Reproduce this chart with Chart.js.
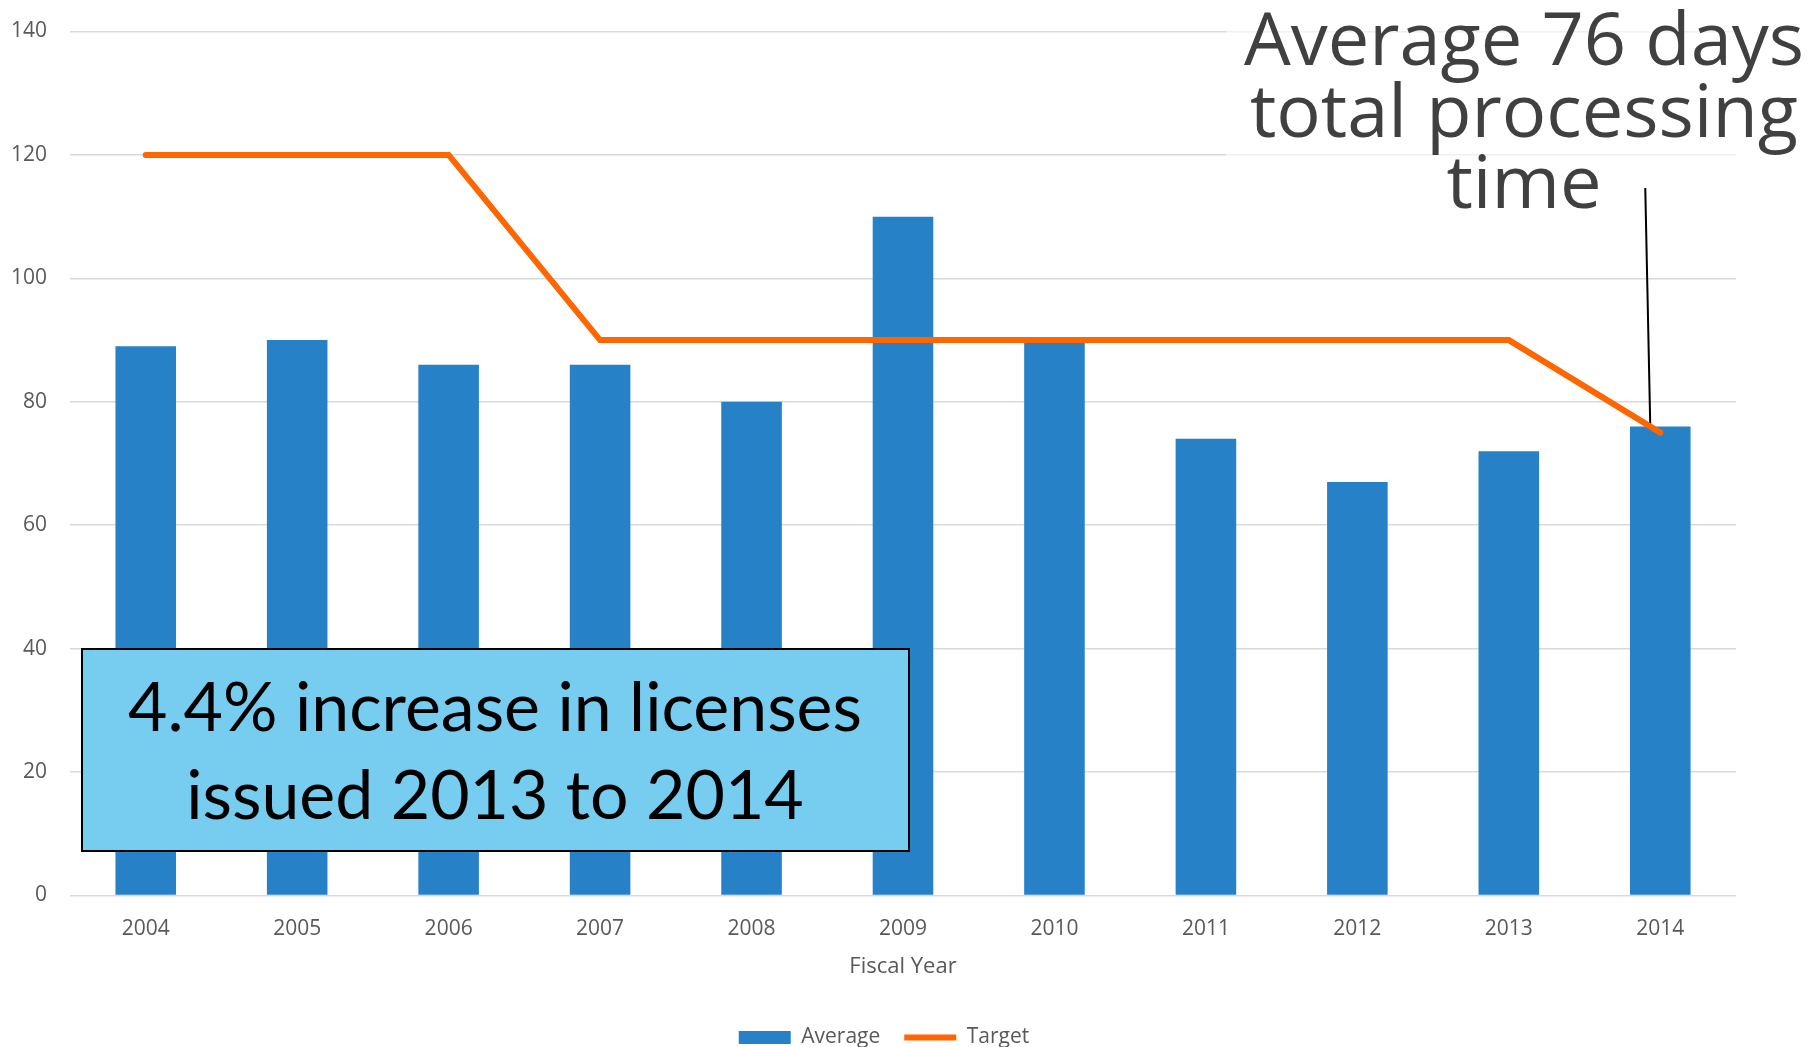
<!DOCTYPE html>
<html>
<head>
<meta charset="utf-8">
<script src="https://cdn.jsdelivr.net/npm/chart.js@4.4.0/dist/chart.umd.min.js"></script>
<style>
  html, body { margin: 0; padding: 0; background: #fff; overflow: hidden; }
  #wrap { position: absolute; left: 0; top: 0; width: 1815px; height: 1058px; }
</style>
</head>
<body>
<div id="wrap"><canvas id="chart"></canvas></div>
<script>
const years = ['2004', '2005', '2006', '2007', '2008', '2009', '2010', '2011', '2012', '2013', '2014'];
const averageDays = [89, 90, 86, 86, 80, 110, 90, 74, 67, 72, 76];
const targetDays = [120, 120, 120, 90, 90, 90, 90, 90, 90, 90, 75];
const yMax = 140;
const yStep = 20;
const calloutLines = ['Average 76 days', 'total processing', 'time'];
const boxLines = ['4.4% increase in licenses', 'issued 2013 to 2014'];

const BAR_BLUE = '#2781C7';
const TARGET_ORANGE = '#FF6600';
const TICK_GREY = '#595959';

// callout text, pointer and the blue text box drawn on top of the chart
const annotations = {
    id: 'annotations',
    afterLayout(chart) {
        // legend sits a little right of the canvas centre in the original
        chart.legend.left += 16;
        chart.legend.right += 16;
    },
    beforeDatasetsDraw(chart) {
        const { ctx } = chart;
        ctx.save();
        // the callout's text frame washes out the gridlines behind it
        ctx.fillStyle = 'rgba(255,255,255,0.6)';
        ctx.fillRect(1226, 0, chart.width - 1226, 215);

        // pointer to the 2014 target point
        const x = chart.scales.x.getPixelForValue(years.length - 1);
        const y = chart.scales.y.getPixelForValue(targetDays[targetDays.length - 1] + 1);
        ctx.strokeStyle = '#000';
        ctx.lineWidth = 2;
        ctx.beginPath();
        ctx.moveTo(x - 15, 188);
        ctx.lineTo(x - 10, y);
        ctx.stroke();
        ctx.restore();
    },
    afterDraw(chart) {
        const { ctx } = chart;
        ctx.save();
        ctx.textAlign = 'center';
        ctx.textBaseline = 'alphabetic';
        ctx.fillStyle = '#404040';
        ctx.font = '74px "Open Sans"';
        calloutLines.forEach((t, i) => ctx.fillText(t, 1524, 65 + i * 71.5));

        ctx.fillStyle = '#77CDF0';
        ctx.fillRect(82, 649, 827, 202);
        ctx.strokeStyle = '#000';
        ctx.lineWidth = 2;
        ctx.strokeRect(82, 649, 827, 202);
        ctx.fillStyle = '#000';
        ctx.font = '68px Lato';
        boxLines.forEach((t, i) => ctx.fillText(t, 495, 731 + i * 88));
        ctx.restore();
    }
};

new Chart(document.getElementById('chart'), {
    type: 'bar',
    data: {
        labels: years,
        datasets: [
            {
                type: 'line',
                label: 'Target',
                data: targetDays,
                borderColor: TARGET_ORANGE,
                backgroundColor: TARGET_ORANGE,
                borderWidth: 6,
                borderCapStyle: 'round',
                pointRadius: 0,
                pointStyle: 'line',
                tension: 0,
                order: 1
            },
            {
                label: 'Average',
                data: averageDays,
                backgroundColor: BAR_BLUE,
                borderWidth: 0,
                barPercentage: 0.4,
                categoryPercentage: 1,
                pointStyle: 'rect',
                order: 2
            }
        ]
    },
    options: {
        responsive: true,
        maintainAspectRatio: false,
        animation: false,
        layout: { padding: { top: 31.5, right: 79, left: 0, bottom: 0 } },
        plugins: {
            legend: {
                position: 'bottom',
                reverse: true,
                labels: {
                    usePointStyle: true,
                    pointStyleWidth: 52,
                    boxHeight: 13,
                    padding: 24,
                    color: TICK_GREY,
                    font: { family: '"Open Sans"', size: 21 }
                }
            },
            tooltip: { enabled: false }
        },
        scales: {
            x: {
                grid: { display: false },
                border: { display: false },
                ticks: { color: TICK_GREY, padding: 13, font: { family: '"Open Sans"', size: 21 } },
                title: {
                    display: true,
                    text: 'Fiscal Year',
                    color: TICK_GREY,
                    padding: { top: 4, bottom: 23 },
                    font: { family: '"Open Sans"', size: 22 }
                },
                afterFit(scale) { scale.height = 107.5; }
            },
            y: {
                min: 0,
                max: yMax,
                border: { display: false },
                // invisible tick marks give the label gap without padding the top of the axis
                grid: { color: '#D9D9D9', lineWidth: 1.5, drawTicks: true, tickLength: 20, tickColor: 'rgba(0,0,0,0)' },
                ticks: { stepSize: yStep, color: TICK_GREY, padding: 3, font: { family: '"Open Sans"', size: 21 } },
                afterFit(scale) { scale.width = 70; }
            }
        }
    },
    plugins: [annotations]
});
</script>
</body>
</html>
